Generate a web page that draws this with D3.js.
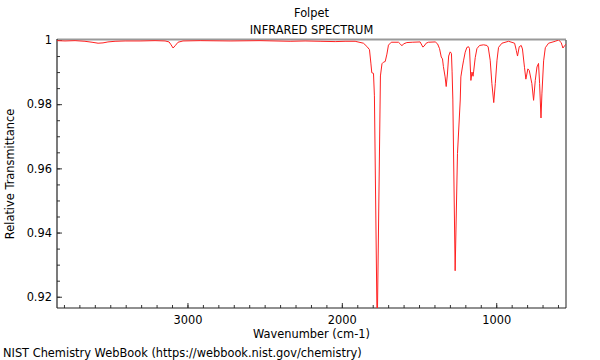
<!DOCTYPE html>
<html>
<head>
<meta charset="utf-8">
<script src="https://cdn.jsdelivr.net/npm/d3@7"></script>
<style>
  body { margin: 0; background: #fff; }
  text { font-family: "DejaVu Sans", sans-serif; }
</style>
</head>
<body>
<script>
let w = 600;
let h = 360;

// spectrum: wavenumber (cm-1) and relative transmittance
let wavenumbers = [3845, 3793, 3728, 3664, 3618, 3579, 3547, 3515, 3469, 3404,
                   3307, 3210, 3145, 3119, 3106, 3093, 3080, 3061, 3029, 2918,
                   2724, 2530, 2335, 2238, 2141, 2043, 1979, 1914, 1860, 1838,
                   1821, 1812, 1806, 1795, 1789, 1771, 1750, 1740, 1730, 1719,
                   1708, 1698, 1680, 1633, 1622, 1611, 1600, 1579, 1544, 1493,
                   1475, 1467, 1454, 1439, 1395, 1380, 1367, 1356, 1348, 1342,
                   1331, 1324, 1316, 1308, 1298, 1290, 1286, 1281, 1266, 1251,
                   1233, 1229, 1219, 1212, 1201, 1190, 1179, 1173, 1164, 1157,
                   1150, 1146, 1136, 1125, 1108, 1082, 1060, 1052, 1039, 1028,
                   1016, 1006, 995, 985, 963, 920, 881, 870, 862, 851,
                   838, 830, 817, 808, 795, 786, 769, 758, 747, 736,
                   726, 719, 710, 704, 693, 682, 661, 618, 596, 579,
                   568, 557, 548];
let transmittance = [0.9998, 0.9997, 0.9998, 0.9996, 0.9993, 0.9990, 0.9991, 0.9994, 0.9996, 0.9997,
                     0.9997, 0.9998, 0.9997, 0.9994, 0.9985, 0.9975, 0.9982, 0.9993, 0.9997, 0.9998,
                     0.9997, 0.9998, 0.9996, 0.9997, 0.9996, 0.9995, 0.9996, 0.9996, 0.9990, 0.9980,
                     0.9970, 0.9928, 0.9898, 0.9896, 0.9826, 0.9087, 0.9888, 0.9926, 0.9931, 0.9933,
                     0.9956, 0.9984, 0.9993, 0.9993, 0.9988, 0.9982, 0.9988, 0.9992, 0.9993, 0.9994,
                     0.9978, 0.9981, 0.9990, 0.9993, 0.9994, 0.9988, 0.9973, 0.9947, 0.9941, 0.9917,
                     0.9885, 0.9855, 0.9894, 0.9950, 0.9963, 0.9958, 0.9903, 0.9816, 0.9281, 0.9646,
                     0.9813, 0.9885, 0.9916, 0.9935, 0.9962, 0.9977, 0.9979, 0.9973, 0.9874, 0.9900,
                     0.9887, 0.9903, 0.9945, 0.9973, 0.9983, 0.9985, 0.9983, 0.9978, 0.9937, 0.9864,
                     0.9805, 0.9864, 0.9937, 0.9977, 0.9990, 0.9996, 0.9990, 0.9968, 0.9950, 0.9979,
                     0.9983, 0.9972, 0.9915, 0.9878, 0.9910, 0.9905, 0.9864, 0.9812, 0.9874, 0.9916,
                     0.9927, 0.9864, 0.9757, 0.9832, 0.9935, 0.9976, 0.9990, 0.9996, 1.0000, 0.9992,
                     0.9975, 0.9982, 0.9987];

let xTicks = [3000, 2000, 1000];
let yTicks = [0.92, 0.94, 0.96, 0.98, 1];

let pLeft = 57, pRight = 566, pTop = 40, pBottom = 308;
let fontSize = "11.4px";

let xScale = d3.scaleLinear()
               .domain([3845, 548])
               .range([pLeft, pRight]);
let yScale = d3.scaleLinear()
               .domain([1, 0.91649])
               .range([pTop, pBottom]);

let svg = d3.select("body")
            .append("svg")
            .attr("width", w)
            .attr("height", h);

svg.append("defs").append("clipPath")
   .attr("id", "plot")
   .append("rect")
   .attr("x", pLeft)
   .attr("y", pTop)
   .attr("width", pRight - pLeft)
   .attr("height", pBottom - pTop);

// minor ticks
svg.append("g")
   .attr("transform", "translate(0," + pBottom + ")")
   .call(d3.axisBottom(xScale).tickValues(d3.range(3800, 549, -100)).tickSize(-3).tickFormat(""))
   .call(g => g.select(".domain").remove());
svg.append("g")
   .attr("transform", "translate(" + pLeft + ",0)")
   .call(d3.axisLeft(yScale).tickValues(d3.range(0.92, 1.0001, 0.005)).tickSize(-3).tickFormat(""))
   .call(g => g.select(".domain").remove());

// major ticks
let xAxis = svg.append("g")
   .attr("transform", "translate(0," + pBottom + ")")
   .call(d3.axisBottom(xScale).tickValues(xTicks).tickSize(-5).tickPadding(8).tickFormat(d3.format("d")));
let yAxis = svg.append("g")
   .attr("transform", "translate(" + pLeft + ",0)")
   .call(d3.axisLeft(yScale).tickValues(yTicks).tickSize(-5).tickPadding(5).tickFormat(d => d === 1 ? "1" : d3.format(".2f")(d)));
[xAxis, yAxis].forEach(function(g) {
    g.select(".domain").remove();
    g.selectAll("text").attr("font-size", fontSize).attr("fill", "#000")
     .attr("font-family", "DejaVu Sans, sans-serif");
});
svg.selectAll(".tick line").attr("stroke", "#333");

// frame
svg.append("line").attr("x1", pLeft).attr("x2", pRight).attr("y1", pTop - 0.5).attr("y2", pTop - 0.5)
   .attr("stroke", "#999").attr("stroke-width", 2);
svg.append("line").attr("x1", pRight).attr("x2", pRight).attr("y1", pTop).attr("y2", pBottom)
   .attr("stroke", "#444").attr("stroke-width", 1.2);
svg.append("line").attr("x1", pLeft).attr("x2", pLeft).attr("y1", pTop - 1).attr("y2", pBottom)
   .attr("stroke", "#222").attr("stroke-width", 1.2);
svg.append("line").attr("x1", pLeft).attr("x2", pRight).attr("y1", pBottom).attr("y2", pBottom)
   .attr("stroke", "#222").attr("stroke-width", 1.2);

// spectrum
let line = d3.line()
             .x(function(d, i) { return xScale(wavenumbers[i]); })
             .y(function(d) { return yScale(d); });
svg.append("path")
   .datum(transmittance)
   .attr("clip-path", "url(#plot)")
   .attr("d", line)
   .attr("fill", "none")
   .attr("stroke", "#ff2020")
   .attr("stroke-width", 1);

// texts
svg.append("text").text("Folpet")
   .attr("x", (pLeft + pRight) / 2).attr("y", 17)
   .attr("text-anchor", "middle").attr("font-size", fontSize);
svg.append("text").text("INFRARED SPECTRUM")
   .attr("x", (pLeft + pRight) / 2).attr("y", 34)
   .attr("text-anchor", "middle").attr("font-size", fontSize);
svg.append("text").text("Wavenumber (cm-1)")
   .attr("x", (pLeft + pRight) / 2).attr("y", 338)
   .attr("text-anchor", "middle").attr("font-size", fontSize);
svg.append("text").text("Relative Transmittance")
   .attr("transform", "translate(14," + ((pTop + pBottom) / 2) + ") rotate(-90)")
   .attr("text-anchor", "middle").attr("font-size", fontSize);
svg.append("text").text("NIST Chemistry WebBook (https://webbook.nist.gov/chemistry)")
   .attr("x", 3).attr("y", 357)
   .attr("font-size", fontSize);
</script>
</body>
</html>
